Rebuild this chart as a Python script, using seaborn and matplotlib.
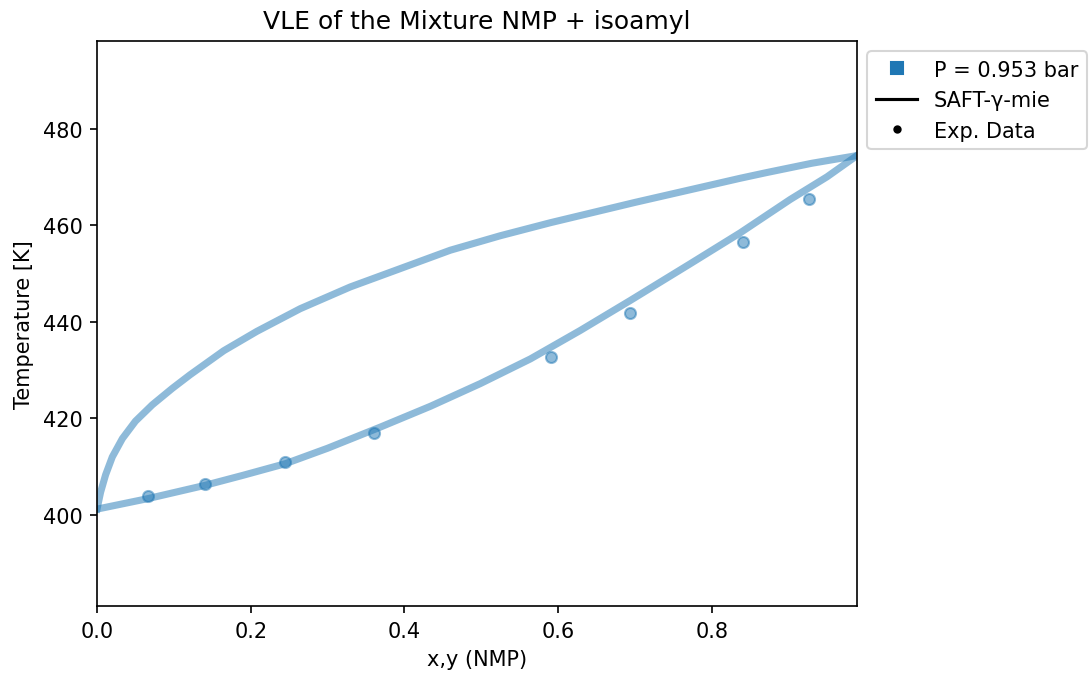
import matplotlib
matplotlib.use("Agg")
import matplotlib.pyplot as plt
import seaborn as sns
import pandas as pd
from matplotlib.lines import Line2D

# Liquid (bubble) curve
x_liq = [0.0, 0.067, 0.140, 0.19, 0.245, 0.30, 0.369, 0.434, 0.499, 0.564, 0.629, 0.694,
         0.772, 0.837, 0.902, 0.950, 0.989]
T_liq = [401.2, 403.4, 406.1, 408.2, 410.6, 413.8, 418.2, 422.5, 427.2, 432.3, 438.2, 444.4,
         452.0, 458.4, 465.3, 470.0, 474.4]

# Vapour (dew) curve
y_vap = [0.0, 0.0047, 0.0112, 0.0199, 0.033, 0.050, 0.072, 0.098, 0.121, 0.165, 0.208,
         0.2645, 0.3296, 0.3947, 0.4597, 0.5248, 0.590, 0.700, 0.785, 0.837, 0.872, 0.930, 0.989]
T_vap = [401.2, 404.7, 408.3, 412.0, 415.8, 419.4, 422.8, 426.2, 429.0, 434.0, 438.0,
         442.7, 447.2, 451.0, 454.8, 457.8, 460.5, 464.7, 467.8, 469.7, 470.9, 472.8, 474.4]

# Experimental data
x_exp = [0.067, 0.140, 0.245, 0.361, 0.591, 0.693, 0.840, 0.9265]
T_exp = [403.9, 406.4, 410.9, 416.9, 432.6, 441.8, 456.6, 465.5]

title = "VLE of the Mixture NMP + isoamyl"
legend_labels = ["P = 0.953 bar", "SAFT-γ-mie", "Exp. Data"]

plt.rcParams['font.family'] = ['DejaVu Sans']
fig = plt.figure(figsize=(1092 / 150, 678 / 150), dpi=150)
ax = fig.add_axes([97 / 1092, 1 - 607 / 678, (857 - 97) / 1092, (607 - 42) / 678])

c0 = "#1f77b4"
df_liq = pd.DataFrame({"x": x_liq, "T": T_liq})
df_vap = pd.DataFrame({"x": y_vap, "T": T_vap})
df_exp = pd.DataFrame({"x": x_exp, "T": T_exp})

sns.lineplot(data=df_liq, x="x", y="T", sort=False, ax=ax, color=c0, alpha=0.5, lw=3.4)
sns.lineplot(data=df_vap, x="x", y="T", sort=False, ax=ax, color=c0, alpha=0.5, lw=3.4)
sns.scatterplot(data=df_exp, x="x", y="T", ax=ax, color=c0, alpha=0.5, s=28,
                edgecolor=c0, linewidth=1.0)

Tmin = min(T_liq)
Tmax = max(T_liq)
ax.set_xlim(0, 0.989)
ax.set_ylim(Tmin * 0.95, Tmax * 1.05)
ax.set_title(title, fontsize=12)
ax.set_xlabel("x,y (NMP)")
ax.set_ylabel("Temperature [K]")

handles = [
    Line2D([], [], marker="s", color=c0, linestyle="None", markersize=6),
    Line2D([], [], color="black", lw=1.5),
    Line2D([], [], marker=".", color="black", linestyle="None", markersize=6),
]
ax.legend(handles, legend_labels, loc="upper left", bbox_to_anchor=(1, 1))

fig.savefig("out.png", dpi=150)
